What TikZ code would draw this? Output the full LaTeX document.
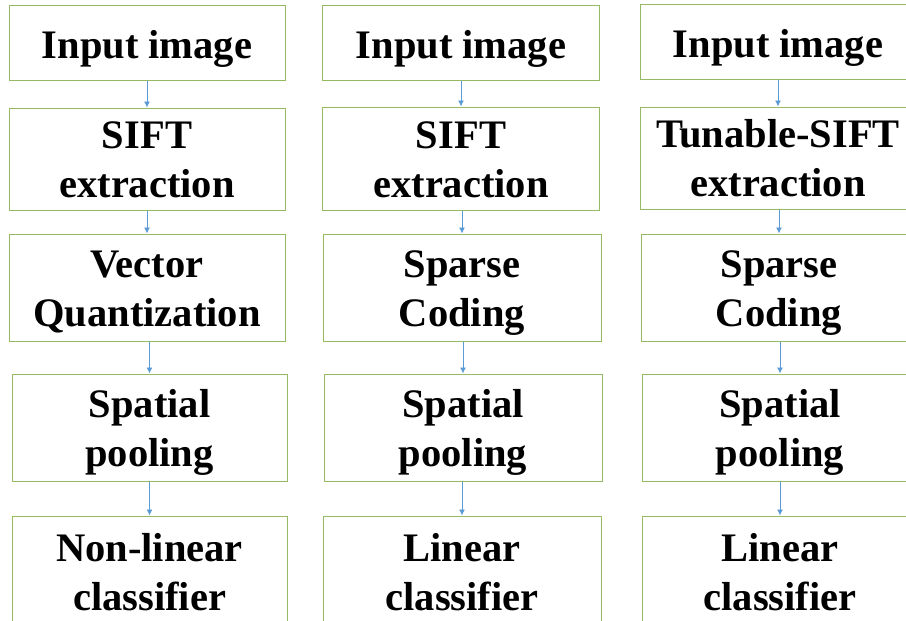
\documentclass[tikz,border=0pt]{standalone}
\usepackage{fontspec}
\setmainfont{Liberation Serif}
\usetikzlibrary{arrows.meta}
\definecolor{boxgreen}{RGB}{150,186,100}
\definecolor{arrblue}{RGB}{91,155,213}
\newcommand{\mytopstrut}{\rule{0pt}{38pt}}
\newcommand{\mybotstrut}{\rule[-10pt]{0pt}{10pt}}
\newcommand{\myonestrut}{\rule[-10pt]{0pt}{52pt}}
\begin{document}
\begin{tikzpicture}[x=1pt,y=-1pt,
  stage/.style={draw=boxgreen, line width=1pt, fill=white, align=center, inner sep=0pt,
    font=\fontsize{40.5}{49}\selectfont\bfseries},
  arr/.style={draw=arrblue, line width=0.9pt, -{Latex[length=6pt,width=6pt]}}]
\path[use as bounding box] (0,0) rectangle (906,621);
\clip (0,0) rectangle (906,621);
% column 1
\node[stage, minimum width=276pt, minimum height=75pt] (a1) at (147,42.5) {\myonestrut Input image};
\node[stage, minimum width=276pt, minimum height=102pt] (a2) at (147,159) {\mytopstrut SIFT\\extraction\mybotstrut};
\node[stage, minimum width=276pt, minimum height=107pt] (a3) at (147,287.5) {\mytopstrut Vector\\Quantization\mybotstrut};
\node[stage, minimum width=275pt, minimum height=107pt] (a4) at (149.5,427.5) {\mytopstrut Spatial\\pooling\mybotstrut};
\node[stage, minimum width=275pt, minimum height=112pt] (a5) at (149.5,572) {\mytopstrut Non-linear\\classifier\mybotstrut};
% column 2
\node[stage, minimum width=277pt, minimum height=75pt] (b1) at (461,42.5) {\myonestrut Input image};
\node[stage, minimum width=277pt, minimum height=103pt] (b2) at (461,158.5) {\mytopstrut SIFT\\extraction\mybotstrut};
\node[stage, minimum width=278pt, minimum height=107pt] (b3) at (462,287.5) {\mytopstrut Sparse\\Coding\mybotstrut};
\node[stage, minimum width=278pt, minimum height=107pt] (b4) at (463,427.5) {\mytopstrut Spatial\\pooling\mybotstrut};
\node[stage, minimum width=278pt, minimum height=112pt] (b5) at (462,572) {\mytopstrut Linear\\classifier\mybotstrut};
% column 3
\node[stage, minimum width=276pt, minimum height=75pt] (c1) at (778,41.5) {\myonestrut Input image};
\node[stage, minimum width=276pt, minimum height=102pt] (c2) at (778,158) {\mytopstrut Tunable-SIFT\\extraction\mybotstrut};
\node[stage, minimum width=276pt, minimum height=107pt] (c3) at (779,287.5) {\mytopstrut Sparse\\Coding\mybotstrut};
\node[stage, minimum width=276pt, minimum height=107pt] (c4) at (780,427.5) {\mytopstrut Spatial\\pooling\mybotstrut};
\node[stage, minimum width=276pt, minimum height=112pt] (c5) at (780,572) {\mytopstrut Linear\\classifier\mybotstrut};
% arrows
\draw[arr] (a1.south -| a2.north) -- (a2.north);
\draw[arr] (a2.south -| a3.north) -- (a3.north);
\draw[arr] (a3.south -| a4.north) -- (a4.north);
\draw[arr] (a4.south -| a5.north) -- (a5.north);
\draw[arr] (b1.south -| b2.north) -- (b2.north);
\draw[arr] (b2.south -| b3.north) -- (b3.north);
\draw[arr] (b3.south -| b4.north) -- (b4.north);
\draw[arr] (b4.south -| b5.north) -- (b5.north);
\draw[arr] (c1.south -| c2.north) -- (c2.north);
\draw[arr] (c2.south -| c3.north) -- (c3.north);
\draw[arr] (c3.south -| c4.north) -- (c4.north);
\draw[arr] (c4.south -| c5.north) -- (c5.north);
\end{tikzpicture}
\end{document}
